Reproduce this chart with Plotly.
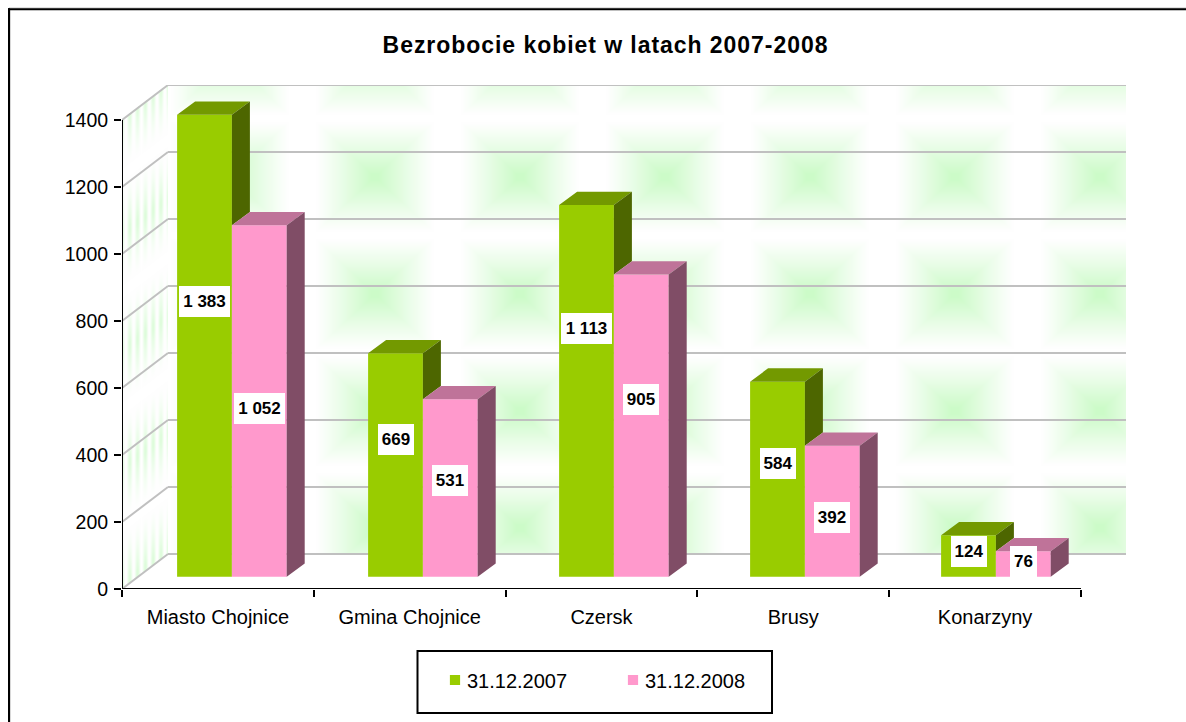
import base64, struct, zlib
import numpy as np
import plotly.graph_objects as go

CATEGORIES = ["Miasto Chojnice", "Gmina Chojnice", "Czersk", "Brusy", "Konarzyny"]
SERIES_2007 = [1383, 669, 1113, 584, 124]
SERIES_2008 = [1052, 531, 905, 392, 76]
NAME_2007 = "31.12.2007"
NAME_2008 = "31.12.2008"
TITLE = "Bezrobocie kobiet w latach 2007-2008"
Y_TICKS = [0, 200, 400, 600, 800, 1000, 1200, 1400]
LABEL_FRAC_2007 = [0.595, 0.615, 0.668, 0.578, 0.60]
LABEL_FRAC_2008 = [0.48, 0.54, 0.585, 0.456, 0.58]

W, H = 1186, 722
L, R, T, B = 122, 1126, 85, 589
CAT_PX = 191.8
VAL_PX = 0.335
to_x = lambda px: px / CAT_PX
to_y = lambda px: px / VAL_PX
X0 = -0.5
X_MAX = X0 + to_x(R - L)
Y_MAX = to_y(B - T)
WALL_DX, WALL_DY = to_x(46), to_y(35)
BAR_W = to_x(54.8)
BAR_SHIFT = to_x(14)
BAR_BASE = to_y(12.3)
GROUP_STEP = 191.0 / 191.8
DX, DY = to_x(18), to_y(13.3)
FRONT = 0.997
FONT = "Liberation Sans"

GREEN, GREEN_TOP, GREEN_SIDE = "#99CC00", "#739900", "#4D6600"
PINK, PINK_TOP, PINK_SIDE = "#FF99CC", "#BF7399", "#804D66"


def wall_png():
    """Decorative green wall texture, as an RGBA image."""
    w, h = R - L, B - T
    xx, yy = np.meshgrid(np.arange(w) + L + .5, np.arange(h) + T + .5)
    px_per, py_per = 145.0, 117.0
    dx = np.abs((xx - 230 + px_per / 2) % px_per - px_per / 2)
    dy = np.abs((yy - 60 + py_per / 2) % py_per - py_per / 2)
    fx = np.clip(1.05 - dx / 56, 0, 1)
    fy = np.clip(1.05 - dy / 52, 0, 1)
    back = np.minimum(fx, fy) ** 1.1
    back[(xx < L + 46) | (yy > B - 35)] = 0
    side_x = xx - L
    skew = yy + side_x * 35 / 46
    sy = np.abs((skew - 117 + py_per / 2) % py_per - py_per / 2)
    stripes = 0.5 + 0.5 * np.cos(2 * np.pi * side_x / 7.8)
    side = stripes * np.clip(1.05 - sy / 50, 0, 1) ** 1.3 * 0.65
    side[(side_x >= 46) | (skew > B) | (skew < B - 470)] = 0
    i = np.maximum(back, side)
    rgba = np.zeros((h, w, 4), dtype=np.uint8)
    rgba[..., 0] = (255 + (204 - 255) * i).astype(np.uint8)
    rgba[..., 1] = (255 + (251 - 255) * i).astype(np.uint8)
    rgba[..., 2] = (255 + (200 - 255) * i).astype(np.uint8)
    rgba[..., 3] = 255
    rgba[(yy > B - (xx - L) * 35 / 46) & (xx < L + 46)] = [255, 255, 255, 0]
    rgba[(yy < B - 470 - (xx - L) * 35 / 46) & (xx < L + 46)] = [255, 255, 255, 0]
    rgba[(yy > B - 35) & (xx >= L + 46)] = [255, 255, 255, 0]

    def chunk(tag, data):
        return struct.pack(">I", len(data)) + tag + data + struct.pack(">I", zlib.crc32(tag + data))

    raw = b"".join(b"\x00" + row.tobytes() for row in rgba)
    png = (b"\x89PNG\r\n\x1a\n" + chunk(b"IHDR", struct.pack(">IIBBBBB", w, h, 8, 6, 0, 0, 0))
           + chunk(b"IDAT", zlib.compress(raw, 9)) + chunk(b"IEND", b""))
    return "data:image/png;base64," + base64.b64encode(png).decode()


def poly_trace(polys, color):
    xs, ys = [], []
    for p in polys:
        xs += [q[0] for q in p] + [p[0][0], None]
        ys += [q[1] for q in p] + [p[0][1], None]
    return go.Scatter(x=xs, y=ys, mode="lines", fill="toself", fillcolor=color,
                      line=dict(width=0, color=color), hoverinfo="skip", showlegend=False)


idx = list(range(len(CATEGORIES)))
x_a = [i * GROUP_STEP + BAR_SHIFT - BAR_W / 2 for i in idx]
x_b = [i * GROUP_STEP + BAR_SHIFT + BAR_W / 2 for i in idx]
tops_a = [BAR_BASE + FRONT * v for v in SERIES_2007]
tops_b = [BAR_BASE + FRONT * v for v in SERIES_2008]

fig = go.Figure()
fig.add_bar(x=x_a, y=[FRONT * v for v in SERIES_2007], base=BAR_BASE, width=BAR_W,
            marker=dict(color=GREEN, line_width=0), name=NAME_2007)
fig.add_bar(x=x_b, y=[FRONT * v for v in SERIES_2008], base=BAR_BASE, width=BAR_W,
            marker=dict(color=PINK, line_width=0), name=NAME_2008)


def top_face(x, t):
    l, r = x - BAR_W / 2, x + BAR_W / 2
    return [(l, t), (r, t), (r + DX, t + DY), (l + DX, t + DY)]


def side_face(x, t, low):
    r = x + BAR_W / 2
    return [(r, t), (r + DX, t + DY), (r + DX, low + DY), (r, low)]


fig.add_trace(poly_trace([top_face(x, t) for x, t in zip(x_a, tops_a)], GREEN_TOP))
fig.add_trace(poly_trace([side_face(x, t, max(lo, BAR_BASE))
                          for x, t, lo in zip(x_a, tops_a, tops_b) if t > lo], GREEN_SIDE))
fig.add_trace(poly_trace([top_face(x, t) for x, t in zip(x_b, tops_b)], PINK_TOP))
fig.add_trace(poly_trace([side_face(x, t, BAR_BASE) for x, t in zip(x_b, tops_b)], PINK_SIDE))

shapes = []
for v in Y_TICKS:
    shapes.append(dict(type="line", xref="x", yref="y", layer="below",
                       x0=X0, y0=v, x1=X0 + WALL_DX, y1=v + WALL_DY,
                       line=dict(color="#C0C0C0", width=2)))
    shapes.append(dict(type="line", xref="x", yref="y", layer="below",
                       x0=X0 + WALL_DX, y0=v + WALL_DY, x1=X_MAX, y1=v + WALL_DY,
                       line=dict(color="#C0C0C0", width=2)))
shapes.append(dict(type="line", xref="x", yref="y", x0=X0, y0=0, x1=X0 + len(CATEGORIES), y1=0,
                   line=dict(color="black", width=2)))
shapes.append(dict(type="line", xref="x", yref="y", x0=X0, y0=0, x1=X0, y1=Y_TICKS[-1],
                   line=dict(color="black", width=2)))


def pxx(p):
    return (p - L) / (R - L)


def pxy(p):
    return (B - p) / (B - T)


shapes.append(dict(type="line", xref="paper", yref="paper", x0=pxx(9), x1=pxx(W), y0=pxy(8), y1=pxy(8),
                   line=dict(color="#C0C0C0", width=1)))
shapes.append(dict(type="line", xref="paper", yref="paper", x0=pxx(10.5), x1=pxx(10.5), y0=pxy(10), y1=pxy(H),
                   line=dict(color="#D8D8D8", width=1)))
shapes.append(dict(type="line", xref="paper", yref="paper", x0=pxx(8), x1=pxx(W), y0=pxy(9.2), y1=pxy(9.2),
                   line=dict(color="black", width=2)))
shapes.append(dict(type="line", xref="paper", yref="paper", x0=pxx(9), x1=pxx(9), y0=pxy(8.2), y1=pxy(H),
                   line=dict(color="black", width=2)))
shapes.append(dict(type="rect", xref="paper", yref="paper", x0=pxx(417.5), x1=pxx(772), y0=pxy(651), y1=pxy(713),
                   line=dict(color="black", width=2), fillcolor="rgba(0,0,0,0)"))


def fmt(v):
    return f"{v:,}".replace(",", " ")


annotations = []
for xs, vals, tops, fracs in [(x_a, SERIES_2007, tops_a, LABEL_FRAC_2007),
                              (x_b, SERIES_2008, tops_b, LABEL_FRAC_2008)]:
    for x, v, t, f in zip(xs, vals, tops, fracs):
        txt = fmt(v)
        digits = len(str(v))
        annotations.append(dict(x=x, y=BAR_BASE + (t - BAR_BASE) * f, xref="x", yref="y", text=f"<b>{txt}</b>",
                                showarrow=False, bgcolor="white", height=31, borderpad=0, borderwidth=0,
                                width=digits * 9 + 9 + (6 if " " in txt else 0),
                                font=dict(family=FONT, size=17, color="black")))

fig.update_layout(
    width=W, height=H, autosize=False,
    margin=dict(l=L, r=W - R, t=T, b=H - B, pad=0),
    paper_bgcolor="white", plot_bgcolor="rgba(0,0,0,0)",
    barmode="overlay",
    font=dict(family=FONT, color="black", size=19),
    title=dict(text=f"<b>{TITLE}</b>", x=pxx(605.5), xref="paper", xanchor="center",
               y=1 - 45 / H, yref="container", yanchor="middle",
               font=dict(family=FONT, size=23, color="black")),
    xaxis=dict(range=[X0, X_MAX], tickmode="array", tickvals=idx, ticktext=CATEGORIES,
               ticks="", showgrid=False, zeroline=False, showline=False, ticklabelstandoff=14,
               tickfont=dict(size=20),
               minor=dict(tickmode="array", tickvals=[X0 + i for i in range(len(CATEGORIES) + 1)],
                          ticks="outside", ticklen=7, tickwidth=2, tickcolor="black", showgrid=False)),
    yaxis=dict(range=[0, Y_MAX], tickmode="array", tickvals=Y_TICKS,
               ticks="outside", ticklen=7, tickwidth=2, tickcolor="black",
               showgrid=False, zeroline=False, showline=False, ticklabelstandoff=2,
               tickfont=dict(size=19.5)),
    showlegend=True,
    legend=dict(orientation="h", x=pxx(427), y=pxy(680), xanchor="left", yanchor="middle",
                bgcolor="rgba(0,0,0,0)", borderwidth=0, entrywidth=133, entrywidthmode="pixels",
                traceorder="normal", font=dict(family=FONT, size=20, color="black")),
    shapes=shapes,
    annotations=annotations,
    images=[dict(source=wall_png(), xref="paper", yref="paper", x=0, y=1, sizex=1, sizey=1,
                 sizing="stretch", xanchor="left", yanchor="top", layer="below")],
)

post = """
document.body.style.margin='0';
document.querySelectorAll('.legend .legendsymbols').forEach(function(g){
  g.setAttribute('transform','translate(11,0) scale(0.85)');
});
document.querySelectorAll('.gtitle').forEach(function(t){ t.style.letterSpacing='0.95px'; });
"""
fig.write_html("out.html", post_script=post, config={"displayModeBar": False})
